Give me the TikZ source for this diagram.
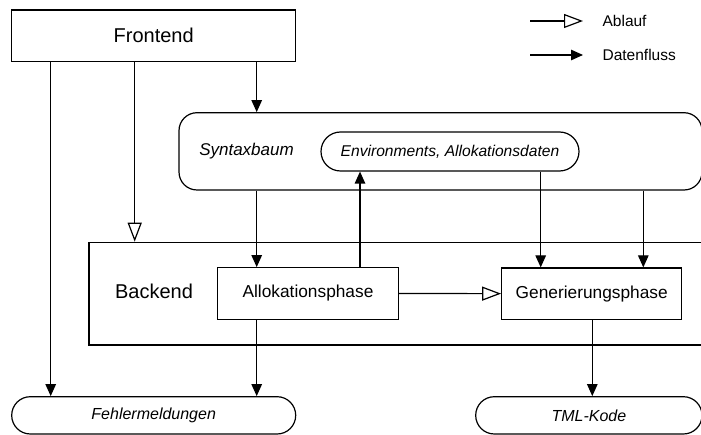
\documentclass[tikz,border=0pt]{standalone}
\usepackage{fontspec}
\setmainfont{Liberation Sans}
\usetikzlibrary{arrows.meta}
\begin{document}
\begin{tikzpicture}[x=1pt,y=-1pt,
  line width=1.2pt,
  box/.style={draw, rectangle, inner sep=0pt},
  term/.style={draw, rectangle, inner sep=0pt, font=\fontsize{16}{18}\selectfont\itshape},
  data/.style={-{Triangle[length=12pt,width=10.5pt]}},
  flow/.style={-{Triangle[open,length=19pt,width=14pt]}},
  big/.style={font=\fontsize{20}{22}\selectfont},
  mid/.style={font=\fontsize{17.3}{19}\selectfont},
  leg/.style={font=\fontsize{15.5}{17}\selectfont, anchor=west, inner sep=0pt}]
\clip (0,0) rectangle (701,435);
\useasboundingbox (0,0) rectangle (701,435);
% nodes
\node[box, big, minimum width=284pt, minimum height=51.7pt] (fe) at (153.7,35.85) {Frontend};
\node[box, rounded corners=18pt, minimum width=523pt, minimum height=77.3pt] (syn) at (440.5,151.35) {};
\node[font=\fontsize{17}{19}\selectfont\itshape, inner sep=0pt] (syntxt) at (246.5,151.5) {Syntaxbaum};
\node[box, rounded corners=19.5pt, minimum width=258pt, minimum height=39pt, font=\fontsize{15.6}{17}\selectfont\itshape] (env) at (450,151.5) {Environments, Allokationsdaten};
\node[box, minimum width=621pt, minimum height=102.7pt] (be) at (399.5,293.65) {};
\node[big, inner sep=0pt] (betxt) at (154,291.7) {Backend};
\node[box, mid, minimum width=180.6pt, minimum height=51.6pt] (al) at (308,293.5) {Allokationsphase};
\node[box, mid, minimum width=180pt, minimum height=51.3pt] (ge) at (591.7,293.65) {Generierungsphase};
\node[term, rounded corners=18.6pt, minimum width=284pt, minimum height=37.3pt] (fm) at (153.7,415.35) {Fehlermeldungen};
\node[term, rounded corners=18.6pt, minimum width=226.3pt, minimum height=37.3pt] (tml) at (588.85,415.35) {TML-Kode};
% columns
\coordinate (c1) at (50.7,0);
\coordinate (c2) at (134.7,0);
\coordinate (c3) at (256.7,0);
\coordinate (c4) at (360,0);
\coordinate (c5) at (540.7,0);
\coordinate (c6) at (643.3,0);
\coordinate (c7) at (592.3,0);
% connectors
\draw[data] (fe.south -| c1) -- (fm.north -| c1);
\draw[flow] (fe.south -| c2) -- (be.north -| c2);
\draw[data] (fe.south -| c3) -- (syn.north -| c3);
\draw[data] (syn.south -| c3) -- (al.north -| c3);
\draw[data] (al.north -| c4) -- (env.south -| c4);
\draw[data] (env.south -| c5) -- (ge.north -| c5);
\draw[data] (syn.south -| c6) -- (ge.north -| c6);
\draw[flow] (al.east) -- (ge.west);
\draw[data] (al.south -| c3) -- (fm.north -| c3);
\draw[data] (ge.south -| c7) -- (tml.north -| c7);
% legend
\coordinate (la1) at (530,21);
\coordinate (la2) at (583,21);
\coordinate (ld1) at (530,55);
\coordinate (ld2) at (583,55);
\draw[flow] (la1) -- (la2);
\draw[data] (ld1) -- (ld2);
\node[leg] (lat) at (602,21) {Ablauf};
\node[leg] (ldt) at (602,55) {Datenfluss};
\end{tikzpicture}
\end{document}
